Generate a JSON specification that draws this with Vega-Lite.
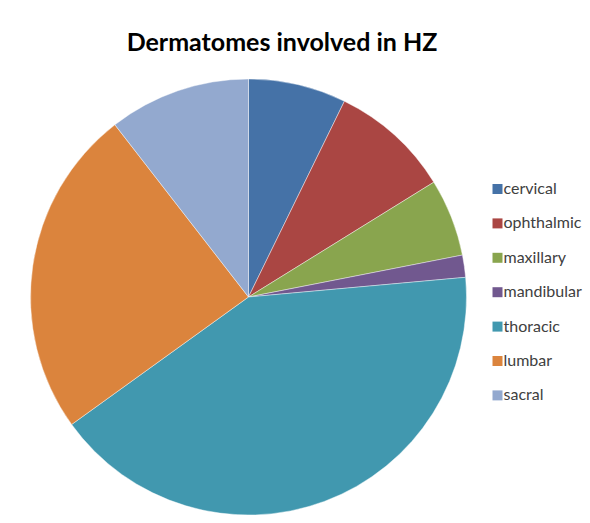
{
  "$schema": "https://vega.github.io/schema/vega-lite/v6.json",
  "autosize": {"type": "none"},
  "width": 436,
  "height": 436,
  "padding": {"left": 30.5, "top": 79, "right": 123.5, "bottom": 8},
  "background": "white",
  "title": {
    "text": "Dermatomes involved in HZ",
    "font": "Lato",
    "fontWeight": "bold",
    "fontSize": 25,
    "color": "#000000",
    "anchor": "middle",
    "baseline": "alphabetic",
    "offset": 2,
    "dx": 33.5
  },
  "data": {
    "values": [
      {"rank": 1, "dermatome": "cervical", "pct": 7.25},
      {"rank": 2, "dermatome": "ophthalmic", "pct": 8.92},
      {"rank": 3, "dermatome": "maxillary", "pct": 5.75},
      {"rank": 4, "dermatome": "mandibular", "pct": 1.64},
      {"rank": 5, "dermatome": "thoracic", "pct": 41.5},
      {"rank": 6, "dermatome": "lumbar", "pct": 24.44},
      {"rank": 7, "dermatome": "sacral", "pct": 10.5}
    ]
  },
  "mark": {"type": "arc", "stroke": "#ffffff", "strokeWidth": 0.6, "strokeOpacity": 0.7},
  "encoding": {
    "theta": {"field": "pct", "type": "quantitative", "stack": true},
    "order": {"field": "rank", "type": "quantitative"},
    "color": {
      "field": "dermatome",
      "type": "nominal",
      "sort": null,
      "scale": {
        "domain": ["cervical", "ophthalmic", "maxillary", "mandibular", "thoracic", "lumbar", "sacral"],
        "range": ["#4572A7", "#AA4643", "#89A54E", "#71588F", "#4198AF", "#DB843D", "#93A9CF"]
      },
      "legend": {
        "title": null,
        "orient": "none",
        "legendX": 459,
        "legendY": 102,
        "padding": 0,
        "symbolType": "square",
        "symbolSize": 100,
        "symbolStrokeWidth": 0,
        "symbolOffset": 0,
        "labelFont": "Lato",
        "labelFontSize": 16,
        "labelColor": "#404040",
        "labelOffset": -2,
        "rowPadding": 18.4,
        "labelLimit": 200
      }
    }
  },
  "config": {"view": {"stroke": null}}
}
